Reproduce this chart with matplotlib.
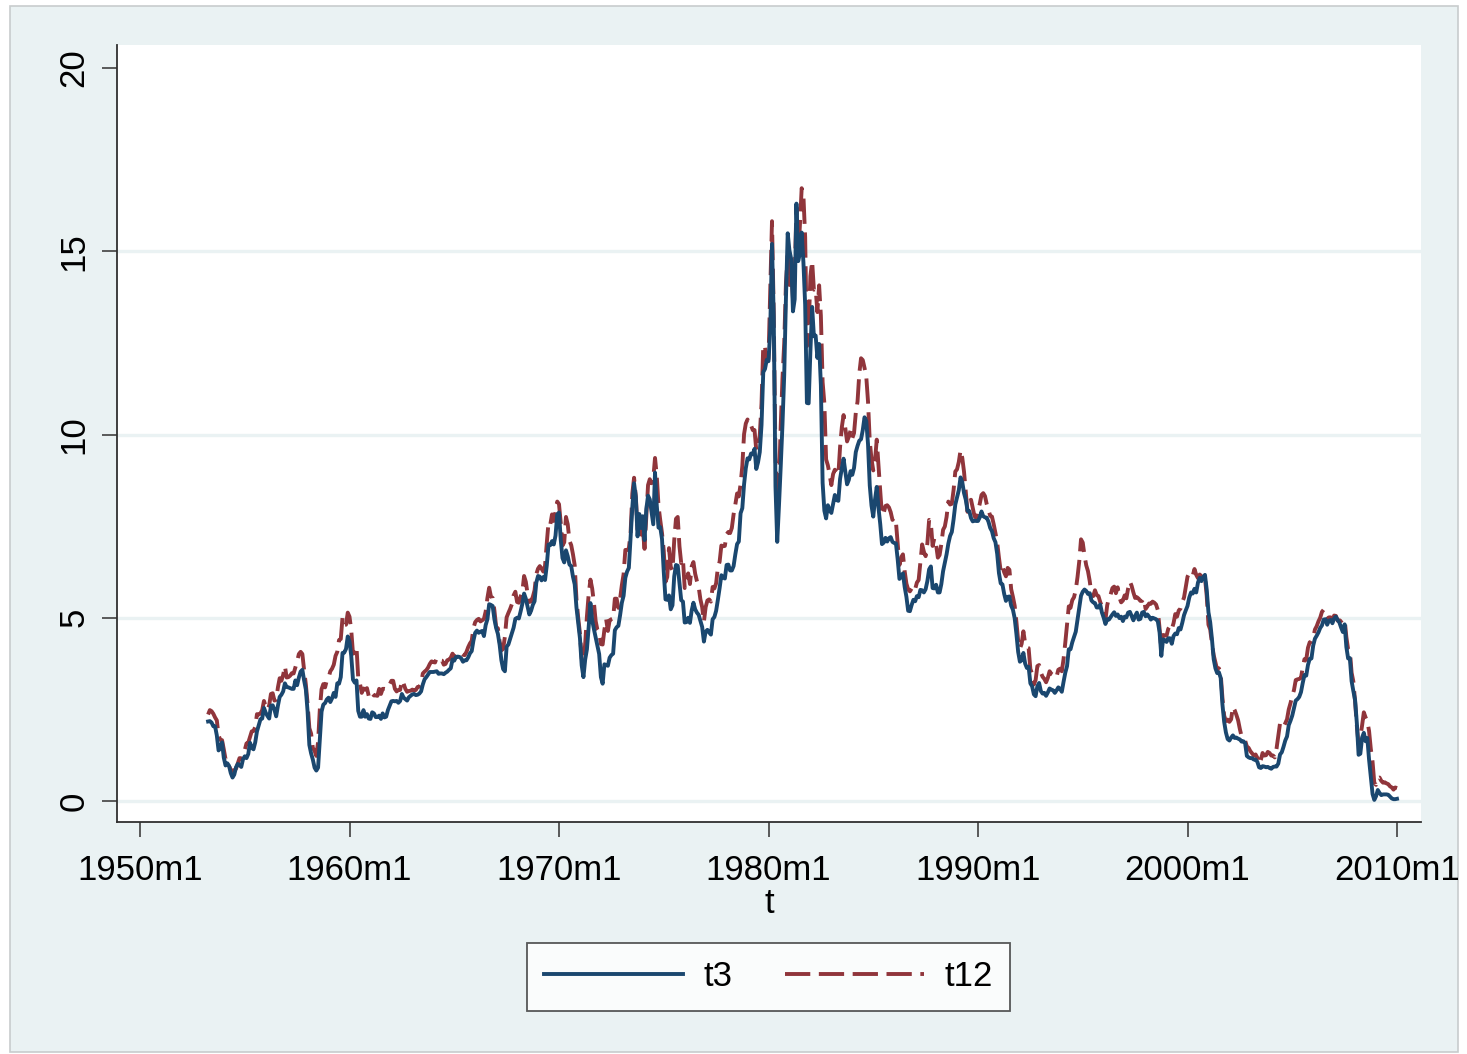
import numpy as np
import matplotlib
matplotlib.use("Agg")
import matplotlib.pyplot as plt
from matplotlib.patches import Rectangle

# monthly yields, 1953m4 .. 2010m1
t3 = [
    2.17, 2.18, 2.14, 2.04, 2.04, 1.79, 1.38, 1.44, 1.60,                     # 1953
    1.18, 0.97, 1.03, 0.96, 0.76, 0.64, 0.72, 0.92, 1.01, 0.98, 0.93, 1.14,   # 1954
    1.22, 1.17, 1.28, 1.59, 1.45, 1.41, 1.60, 1.90, 2.07, 2.23, 2.25, 2.54,   # 1955
    2.41, 2.32, 2.25, 2.60, 2.61, 2.49, 2.31, 2.60, 2.84, 2.90, 2.99, 3.21,   # 1956
    3.11, 3.10, 3.08, 3.06, 3.06, 3.29, 3.16, 3.37, 3.53, 3.58, 3.29, 3.04,   # 1957
    2.44, 1.53, 1.30, 1.13, 0.91, 0.83, 0.91, 1.69, 2.44, 2.63, 2.67, 2.77,   # 1958
    2.82, 2.70, 2.80, 2.95, 2.84, 3.21, 3.20, 3.38, 4.04, 4.05, 4.15, 4.49,   # 1959
    4.35, 3.96, 3.31, 3.23, 3.29, 2.46, 2.30, 2.30, 2.48, 2.30, 2.37, 2.25,   # 1960
    2.24, 2.42, 2.39, 2.29, 2.29, 2.33, 2.24, 2.39, 2.28, 2.30, 2.48, 2.60,   # 1961
    2.72, 2.73, 2.72, 2.73, 2.68, 2.73, 2.92, 2.82, 2.78, 2.74, 2.83, 2.87,   # 1962
    2.91, 2.92, 2.89, 2.90, 2.93, 2.99, 3.18, 3.32, 3.38, 3.45, 3.52, 3.52,   # 1963
    3.52, 3.53, 3.54, 3.47, 3.48, 3.48, 3.46, 3.50, 3.53, 3.58, 3.62, 3.86,   # 1964
    3.83, 3.93, 3.94, 3.93, 3.89, 3.80, 3.84, 3.84, 3.92, 4.03, 4.09, 4.38,   # 1965
    4.59, 4.65, 4.59, 4.62, 4.64, 4.50, 4.80, 4.96, 5.37, 5.35, 5.32, 4.96,   # 1966
    4.72, 4.56, 4.26, 3.84, 3.60, 3.54, 4.21, 4.27, 4.42, 4.56, 4.73, 4.97,   # 1967
    5.00, 4.98, 5.17, 5.38, 5.66, 5.52, 5.31, 5.09, 5.19, 5.35, 5.45, 5.96,   # 1968
    6.14, 6.12, 6.02, 6.11, 6.03, 6.43, 7.00, 6.98, 7.09, 7.00, 7.24, 7.82,   # 1969
    7.87, 7.13, 6.63, 6.51, 6.84, 6.68, 6.45, 6.41, 6.12, 5.91, 5.28, 4.87,   # 1970
    4.44, 3.70, 3.38, 3.86, 4.14, 4.75, 5.40, 4.94, 4.69, 4.46, 4.22, 4.01,   # 1971
    3.38, 3.20, 3.73, 3.71, 3.69, 3.91, 3.98, 4.02, 4.66, 4.74, 4.78, 5.07,   # 1972
    5.41, 5.60, 6.09, 6.26, 6.36, 7.19, 8.01, 8.67, 8.29, 7.22, 7.83, 7.45,   # 1973
    7.77, 7.12, 7.96, 8.33, 8.23, 7.90, 7.55, 8.96, 8.06, 7.46, 7.47, 7.15,   # 1974
    6.26, 5.50, 5.49, 5.61, 5.23, 5.34, 6.13, 6.44, 6.42, 5.96, 5.48, 5.44,   # 1975
    4.87, 4.88, 5.00, 4.86, 5.20, 5.41, 5.23, 5.14, 5.08, 4.92, 4.75, 4.35,   # 1976
    4.62, 4.67, 4.60, 4.54, 4.96, 5.02, 5.19, 5.49, 5.81, 6.16, 6.10, 6.07,   # 1977
    6.44, 6.45, 6.29, 6.29, 6.41, 6.73, 7.01, 7.08, 7.85, 7.99, 8.64, 9.08,   # 1978
    9.35, 9.32, 9.48, 9.46, 9.61, 9.06, 9.24, 9.52, 10.26, 11.70, 11.79, 12.04,  # 1979
    12.00, 12.86, 15.20, 13.20, 8.58, 7.07, 8.06, 9.13, 10.27, 11.62, 13.73, 15.49,  # 1980
    15.02, 14.79, 13.36, 13.69, 16.30, 14.73, 14.95, 15.51, 14.70, 13.54, 10.86, 10.85,  # 1981
    12.28, 13.48, 12.68, 12.70, 12.09, 12.47, 11.35, 8.68, 7.92, 7.71, 8.07, 7.94,  # 1982
    7.86, 8.11, 8.35, 8.21, 8.19, 8.79, 9.08, 9.34, 9.00, 8.64, 8.76, 9.00,   # 1983
    8.90, 9.09, 9.52, 9.69, 9.83, 9.87, 10.12, 10.47, 10.37, 9.74, 8.61, 8.06,  # 1984
    7.76, 8.22, 8.57, 8.00, 7.56, 7.01, 7.05, 7.18, 7.08, 7.17, 7.20, 7.07,   # 1985
    7.04, 7.03, 6.59, 6.06, 6.12, 6.21, 5.84, 5.57, 5.19, 5.18, 5.35, 5.49,   # 1986
    5.45, 5.59, 5.56, 5.76, 5.75, 5.69, 5.78, 6.00, 6.32, 6.40, 5.81, 5.80,   # 1987
    5.90, 5.69, 5.69, 5.92, 6.27, 6.50, 6.73, 7.02, 7.23, 7.34, 7.68, 8.09,   # 1988
    8.29, 8.48, 8.83, 8.70, 8.40, 8.22, 7.92, 7.91, 7.72, 7.63, 7.65, 7.64,   # 1989
    7.64, 7.74, 7.90, 7.77, 7.74, 7.73, 7.62, 7.45, 7.36, 7.17, 7.06, 6.74,   # 1990
    6.22, 5.94, 5.91, 5.65, 5.46, 5.57, 5.58, 5.33, 5.22, 4.99, 4.56, 4.07,   # 1991
    3.80, 3.84, 4.04, 3.75, 3.63, 3.66, 3.21, 3.13, 2.91, 2.86, 3.13, 3.22,   # 1992
    3.00, 2.93, 2.95, 2.87, 2.96, 3.07, 3.04, 3.02, 2.95, 3.02, 3.10, 3.06,   # 1993
    2.98, 3.25, 3.50, 3.68, 4.14, 4.14, 4.33, 4.48, 4.62, 4.95, 5.29, 5.60,   # 1994
    5.71, 5.77, 5.73, 5.65, 5.67, 5.47, 5.42, 5.40, 5.28, 5.28, 5.36, 5.14,   # 1995
    5.00, 4.83, 4.96, 4.95, 5.02, 5.09, 5.15, 5.05, 5.09, 4.99, 5.03, 4.91,   # 1996
    5.03, 5.01, 5.14, 5.16, 5.05, 4.93, 5.05, 5.14, 4.95, 4.97, 5.14, 5.16,   # 1997
    5.04, 5.09, 5.03, 4.95, 5.00, 4.98, 4.96, 4.90, 4.61, 3.96, 4.41, 4.39,   # 1998
    4.34, 4.44, 4.44, 4.29, 4.50, 4.57, 4.55, 4.72, 4.68, 4.86, 5.07, 5.20,   # 1999
    5.32, 5.55, 5.69, 5.66, 5.79, 5.69, 5.96, 6.09, 6.00, 6.11, 6.17, 5.77,   # 2000
    5.15, 4.88, 4.42, 3.87, 3.62, 3.49, 3.51, 3.36, 2.64, 2.16, 1.87, 1.69,   # 2001
    1.65, 1.73, 1.79, 1.72, 1.73, 1.70, 1.68, 1.62, 1.63, 1.58, 1.23, 1.19,   # 2002
    1.17, 1.17, 1.13, 1.13, 1.07, 0.92, 0.90, 0.95, 0.94, 0.92, 0.93, 0.90,   # 2003
    0.88, 0.93, 0.94, 0.94, 1.02, 1.27, 1.33, 1.48, 1.65, 1.76, 2.07, 2.19,   # 2004
    2.33, 2.54, 2.74, 2.78, 2.84, 2.97, 3.22, 3.44, 3.42, 3.71, 3.88, 3.89,   # 2005
    4.24, 4.43, 4.51, 4.60, 4.72, 4.79, 4.95, 4.96, 4.81, 4.92, 4.94, 4.85,   # 2006
    4.98, 5.03, 4.94, 4.87, 4.73, 4.61, 4.82, 4.20, 3.89, 3.90, 3.27, 3.00,   # 2007
    2.75, 2.12, 1.26, 1.29, 1.73, 1.86, 1.63, 1.72, 1.13, 0.67, 0.19, 0.03,   # 2008
    0.13, 0.30, 0.22, 0.16, 0.18, 0.18, 0.18, 0.17, 0.12, 0.07, 0.05, 0.05,   # 2009
    0.06,                                                                     # 2010
]

t12 = [
    2.36, 2.48, 2.45, 2.38, 2.28, 2.20, 1.79, 1.67, 1.66,                     # 1953
    1.41, 1.14, 1.13, 0.96, 0.85, 0.82, 0.84, 0.88, 1.03, 1.17, 1.14, 1.21,   # 1954
    1.39, 1.57, 1.59, 1.75, 1.90, 1.91, 2.02, 2.37, 2.36, 2.39, 2.48, 2.73,   # 1955
    2.58, 2.49, 2.61, 2.92, 2.94, 2.74, 2.76, 3.10, 3.35, 3.28, 3.44, 3.68,   # 1956
    3.37, 3.38, 3.42, 3.49, 3.48, 3.65, 3.81, 4.01, 4.07, 4.01, 3.57, 3.18,   # 1957
    2.65, 1.99, 1.84, 1.45, 1.37, 1.23, 1.61, 2.50, 3.05, 3.19, 3.10, 3.29,   # 1958
    3.36, 3.54, 3.61, 3.72, 3.96, 4.07, 4.39, 4.42, 5.00, 4.80, 4.81, 5.14,   # 1959
    5.03, 4.66, 4.02, 4.04, 4.21, 3.36, 3.20, 2.95, 3.07, 3.04, 3.08, 2.87,   # 1960
    2.81, 2.93, 2.88, 2.88, 2.87, 3.06, 2.92, 3.06, 3.06, 3.05, 3.07, 3.18,   # 1961
    3.28, 3.28, 3.06, 2.99, 3.03, 3.03, 3.29, 3.20, 3.06, 2.98, 3.00, 3.01,   # 1962
    3.04, 3.01, 3.03, 3.11, 3.12, 3.20, 3.48, 3.53, 3.57, 3.64, 3.74, 3.81,   # 1963
    3.79, 3.78, 3.91, 3.91, 3.84, 3.83, 3.72, 3.74, 3.84, 3.86, 3.91, 4.02,   # 1964
    3.94, 4.03, 4.06, 4.04, 4.03, 3.99, 3.98, 4.07, 4.20, 4.30, 4.37, 4.72,   # 1965
    4.88, 4.94, 4.97, 4.90, 4.93, 4.97, 5.17, 5.54, 5.82, 5.58, 5.54, 5.20,   # 1966
    4.75, 4.71, 4.35, 4.11, 4.15, 4.48, 5.01, 5.13, 5.24, 5.37, 5.61, 5.71,   # 1967
    5.43, 5.41, 5.58, 5.71, 6.14, 5.98, 5.65, 5.43, 5.45, 5.57, 5.75, 6.19,   # 1968
    6.34, 6.41, 6.34, 6.26, 6.42, 7.04, 7.60, 7.54, 7.82, 7.64, 7.89, 8.17,   # 1969
    8.10, 7.59, 6.97, 7.06, 7.75, 7.55, 7.10, 6.98, 6.73, 6.43, 5.51, 5.00,   # 1970
    4.57, 3.89, 3.69, 4.30, 5.04, 5.64, 6.04, 5.80, 5.41, 4.91, 4.67, 4.60,   # 1971
    4.28, 4.27, 4.67, 4.96, 4.64, 4.93, 4.96, 4.98, 5.52, 5.52, 5.27, 5.52,   # 1972
    5.89, 6.19, 6.85, 6.85, 6.89, 7.31, 8.39, 8.82, 8.31, 7.40, 7.57, 7.27,   # 1973
    7.42, 6.88, 7.76, 8.62, 8.78, 8.67, 8.80, 9.36, 8.87, 8.05, 7.66, 7.31,   # 1974
    6.83, 5.98, 6.11, 6.90, 6.39, 6.29, 7.11, 7.70, 7.75, 6.95, 6.49, 6.60,   # 1975
    5.81, 5.91, 6.21, 5.92, 6.40, 6.52, 6.20, 6.00, 5.84, 5.50, 5.29, 4.89,   # 1976
    5.29, 5.47, 5.50, 5.44, 5.84, 5.80, 5.94, 6.37, 6.53, 6.97, 6.95, 6.96,   # 1977
    7.28, 7.34, 7.31, 7.45, 7.82, 8.09, 8.39, 8.31, 8.64, 9.14, 10.01, 10.30,  # 1978
    10.41, 10.24, 10.25, 10.12, 10.12, 9.57, 9.64, 9.98, 10.84, 12.44, 12.39, 11.98,  # 1979
    12.06, 13.92, 15.82, 13.30, 9.39, 8.16, 8.65, 10.24, 11.52, 12.49, 14.15, 14.88,  # 1980
    14.08, 14.57, 13.71, 14.32, 16.20, 14.86, 15.72, 16.72, 16.52, 15.38, 12.41, 12.85,  # 1981
    14.32, 14.73, 13.95, 13.98, 13.34, 14.07, 13.24, 11.43, 10.85, 9.32, 9.16, 8.91,  # 1982
    8.62, 8.92, 9.04, 8.98, 8.90, 9.66, 10.20, 10.53, 10.16, 9.81, 9.94, 10.11,  # 1983
    9.90, 10.04, 10.59, 10.90, 11.66, 12.08, 12.03, 11.82, 11.58, 10.90, 9.82, 9.33,  # 1984
    9.02, 9.29, 9.86, 9.14, 8.46, 7.80, 7.86, 8.05, 8.07, 8.01, 7.88, 7.67,   # 1985
    7.73, 7.61, 7.03, 6.44, 6.65, 6.73, 6.27, 5.93, 5.77, 5.72, 5.80, 5.87,   # 1986
    5.78, 5.96, 6.03, 6.50, 7.00, 6.80, 6.68, 7.03, 7.67, 7.59, 6.96, 7.17,   # 1987
    6.99, 6.64, 6.71, 7.01, 7.40, 7.49, 7.75, 8.17, 8.09, 8.11, 8.48, 8.99,   # 1988
    9.05, 9.25, 9.57, 9.36, 8.98, 8.44, 7.89, 8.18, 8.22, 7.99, 7.77, 7.72,   # 1989
    7.92, 8.11, 8.35, 8.40, 8.32, 8.10, 7.94, 7.78, 7.76, 7.55, 7.31, 7.05,   # 1990
    6.64, 6.27, 6.40, 6.24, 6.13, 6.36, 6.31, 5.78, 5.57, 5.33, 4.89, 4.38,   # 1991
    4.15, 4.29, 4.63, 4.30, 4.19, 4.17, 3.60, 3.47, 3.18, 3.30, 3.68, 3.71,   # 1992
    3.50, 3.39, 3.33, 3.24, 3.36, 3.54, 3.47, 3.44, 3.36, 3.39, 3.58, 3.61,   # 1993
    3.54, 3.87, 4.32, 4.82, 5.31, 5.27, 5.48, 5.56, 5.76, 6.11, 6.54, 7.14,   # 1994
    7.05, 6.70, 6.43, 6.27, 6.00, 5.64, 5.59, 5.75, 5.62, 5.59, 5.43, 5.31,   # 1995
    5.09, 4.94, 5.34, 5.54, 5.64, 5.81, 5.85, 5.67, 5.83, 5.55, 5.42, 5.47,   # 1996
    5.61, 5.53, 5.80, 5.99, 5.87, 5.69, 5.54, 5.56, 5.52, 5.46, 5.46, 5.53,   # 1997
    5.24, 5.31, 5.39, 5.38, 5.44, 5.41, 5.36, 5.21, 4.71, 4.12, 4.53, 4.52,   # 1998
    4.51, 4.70, 4.78, 4.69, 4.85, 5.10, 5.03, 5.20, 5.25, 5.43, 5.55, 5.84,   # 1999
    6.12, 6.22, 6.22, 6.15, 6.33, 6.17, 6.08, 6.18, 6.13, 6.01, 6.09, 5.60,   # 2000
    4.81, 4.68, 4.30, 3.98, 3.78, 3.58, 3.62, 3.47, 2.82, 2.33, 2.18, 2.22,   # 2001
    2.16, 2.23, 2.57, 2.48, 2.35, 2.20, 1.96, 1.76, 1.72, 1.65, 1.49, 1.45,   # 2002
    1.36, 1.30, 1.24, 1.27, 1.18, 1.01, 1.12, 1.31, 1.24, 1.25, 1.34, 1.31,   # 2003
    1.24, 1.24, 1.19, 1.43, 1.78, 2.12, 2.10, 2.02, 2.12, 2.23, 2.50, 2.67,   # 2004
    2.86, 3.03, 3.30, 3.32, 3.33, 3.36, 3.64, 3.87, 3.85, 4.18, 4.33, 4.35,   # 2005
    4.45, 4.68, 4.77, 4.90, 5.00, 5.16, 5.22, 5.08, 4.97, 5.01, 5.01, 4.94,   # 2006
    5.06, 5.05, 4.92, 4.93, 4.91, 4.96, 4.96, 4.47, 4.14, 4.10, 3.50, 3.26,   # 2007
    2.71, 2.05, 1.54, 1.74, 2.06, 2.42, 2.28, 2.18, 1.91, 1.42, 1.07, 0.49,   # 2008
    0.44, 0.62, 0.64, 0.55, 0.50, 0.51, 0.48, 0.46, 0.40, 0.37, 0.31, 0.37,   # 2009
    0.35,                                                                     # 2010
]

start = 1953 + 3 / 12.          # 1953m4
t = start + np.arange(len(t3)) / 12.

xticks = [1950, 1960, 1970, 1980, 1990, 2000, 2010]
xticklabels = ["%dm1" % y for y in xticks]
yticks = [0, 5, 10, 15, 20]

navy = "#1a476f"
maroon = "#90353b"
bgc = "#eaf2f3"

plt.rcParams["font.family"] = ["Liberation Sans", "DejaVu Sans"]

fig = plt.figure(figsize=(14.67, 10.54), dpi=100, facecolor="white")
fig.patches.append(Rectangle((10 / 1467, 1 - 1052 / 1054), 1448 / 1467, 1046 / 1054,
                             transform=fig.transFigure, facecolor=bgc,
                             edgecolor="#c8cccd", linewidth=1.2, zorder=-10))

ax = fig.add_axes([117 / 1467, 1 - 822 / 1054, 1304 / 1467, 777 / 1054])
ax.set_facecolor("white")

for g in [0, 5, 10, 15]:
    ax.axhline(g, color=bgc, linewidth=2.4, zorder=1)

ax.plot(t, t3, color=navy, linewidth=2.8, label="t3", zorder=3)
ax.plot(t, t12, color=maroon, linewidth=2.8, dashes=(6.5, 2.2), label="t12", zorder=2)

ax.set_xlim(1950 - 23 / 20.95, 1950 + 1281 / 20.95)
ax.set_ylim(-21 / 36.65, 756 / 36.65)

ax.set_xticks(xticks)
ax.set_xticklabels(xticklabels)
ax.set_yticks(yticks)
ax.set_yticklabels([str(v) for v in yticks], rotation=90, va="center")

ax.tick_params(axis="both", direction="out", length=11, width=1.2,
               color="#404040", labelsize=25, labelcolor="black", pad=8)
ax.tick_params(axis="x", pad=12)

for s in ["top", "right"]:
    ax.spines[s].set_visible(False)
for s in ["left", "bottom"]:
    ax.spines[s].set_color("#303030")
    ax.spines[s].set_linewidth(1.3)

ax.set_xlabel("t", fontsize=25, labelpad=0)

leg = fig.legend(loc="center", bbox_to_anchor=(768.5 / 1467, 1 - 977 / 1054), ncol=2,
                 fontsize=25, handlelength=4.0, handletextpad=0.6, columnspacing=1.5,
                 frameon=True, fancybox=False, borderpad=0.5)
leg.get_frame().set_edgecolor("#303030")
leg.get_frame().set_linewidth(1.3)
leg.get_frame().set_facecolor("white")

fig.savefig("out.png", dpi=100, facecolor=fig.get_facecolor())
